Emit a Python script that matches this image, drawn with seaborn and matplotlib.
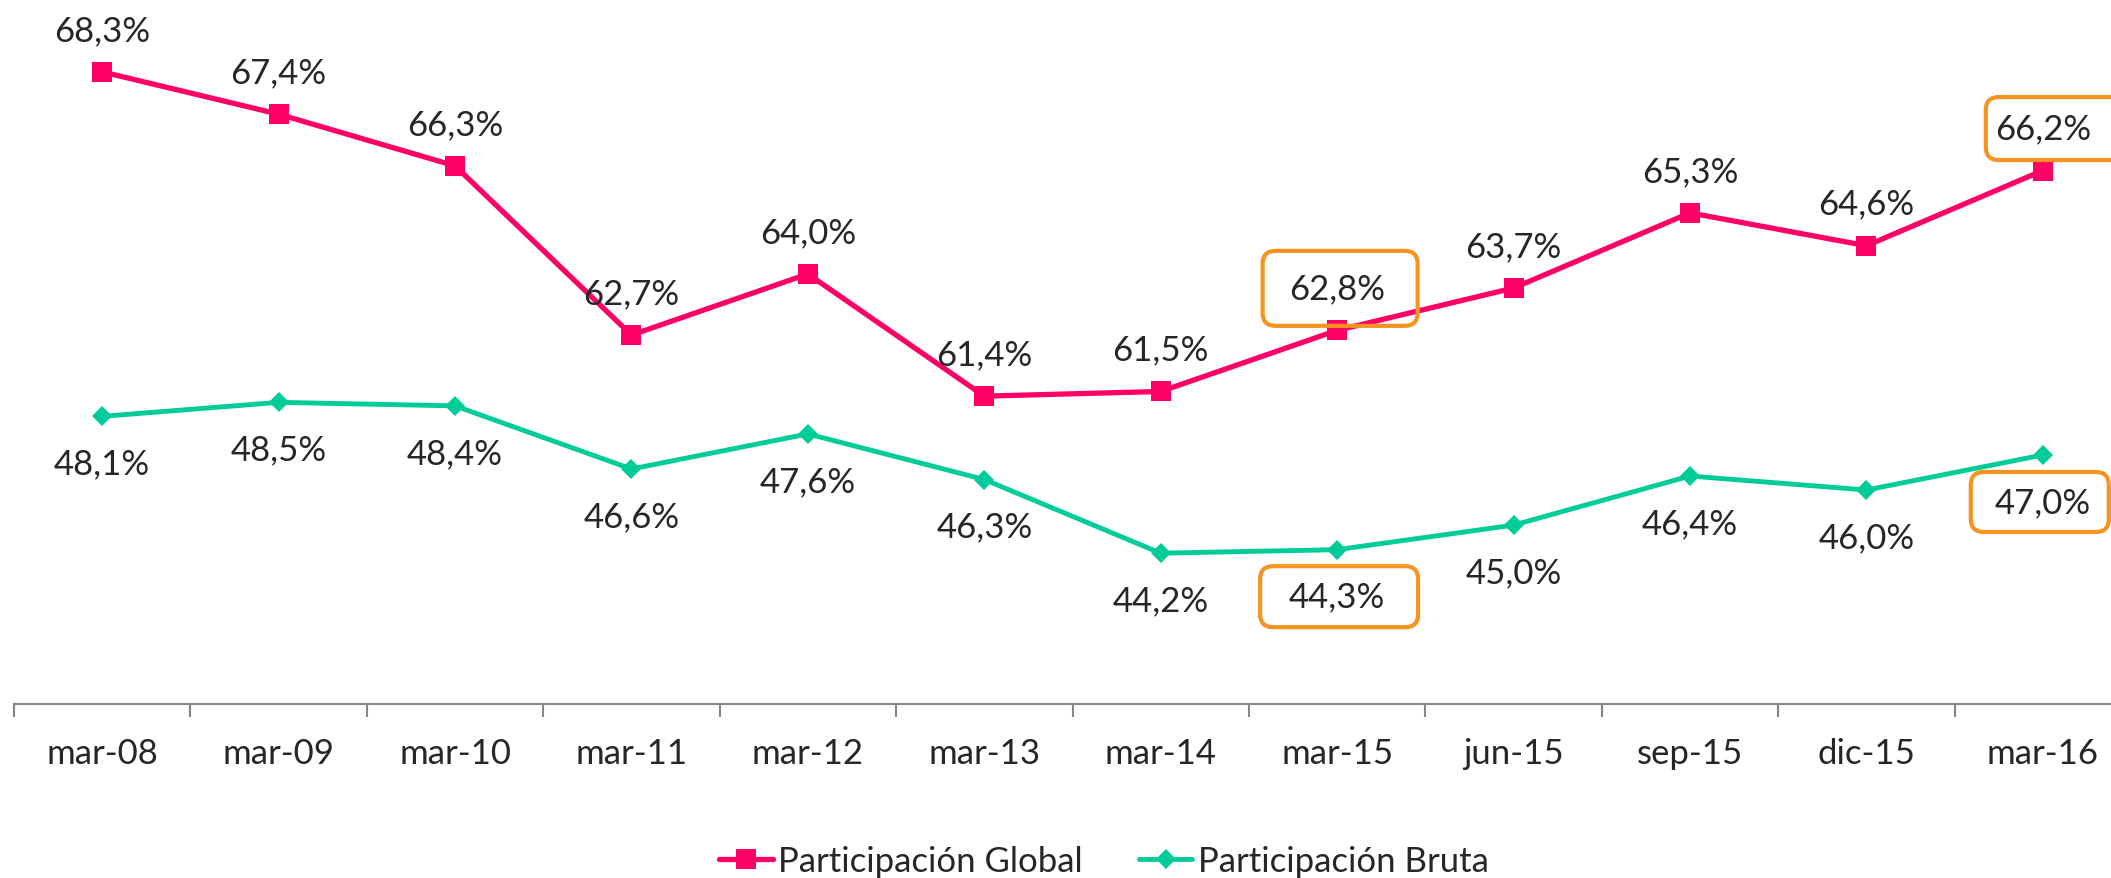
import matplotlib.pyplot as plt
import seaborn as sns
from matplotlib.patches import FancyBboxPatch
from matplotlib.lines import Line2D
from matplotlib.transforms import IdentityTransform

# ==============================
# DATA
# ==============================
periodos = ["mar-08", "mar-09", "mar-10", "mar-11", "mar-12", "mar-13",
            "mar-14", "mar-15", "jun-15", "sep-15", "dic-15", "mar-16"]
part_global = [68.3, 67.4, 66.3, 62.7, 64.0, 61.4, 61.5, 62.8, 63.7, 65.3, 64.6, 66.2]
part_bruta = [48.1, 48.5, 48.4, 46.6, 47.6, 46.3, 44.2, 44.3, 45.0, 46.4, 46.0, 47.0]
series = ["Participación Global", "Participación Bruta"]

ROSA = "#FF0066"
VERDE = "#00CC99"
NARANJA = "#F7931E"
GRIS = "#868686"
FS = 25

sns.set_style("white")
plt.rcParams["font.family"] = ["Lato", "DejaVu Sans"]

W, H = 2111, 879
fig = plt.figure(figsize=(W / 100, H / 100), dpi=100)
ax = fig.add_axes([14 / W, 174 / H, 2117 / W, 705 / H])
ax2 = ax.twinx()

xs = list(range(len(periodos)))
sns.lineplot(x=xs, y=part_global, ax=ax, color=ROSA, lw=3.8, marker="s",
             markersize=14.5, markeredgewidth=0, zorder=4)
sns.lineplot(x=xs, y=part_bruta, ax=ax2, color=VERDE, lw=3.5, marker="D",
             markersize=10.5, markeredgewidth=0, zorder=4)

ax.set_xlim(-0.5, len(periodos) - 0.5)
ax.set_ylim(54.85, 69.85)
ax2.set_ylim(39.9, 60.0)

# axes look
for a in (ax, ax2):
    for s in ["top", "right", "left"]:
        a.spines[s].set_visible(False)
    a.set_yticks([])
    a.set_ylabel("")
ax2.spines["bottom"].set_visible(False)
ax.spines["bottom"].set_color(GRIS)
ax.spines["bottom"].set_linewidth(1.5)

ax.set_xticks(xs)
ax.set_xticklabels(periodos, fontsize=FS)
ax.set_xticks([i - 0.5 for i in range(len(periodos) + 1)], minor=True)
ax.tick_params(axis="x", which="major", bottom=False, length=0, pad=24)
ax.tick_params(axis="x", which="minor", bottom=True, direction="out",
               length=9, width=1.5, color=GRIS)


def fmt(v):
    return f"{v:.1f}".replace(".", ",") + "%"


# data labels
for i, v in enumerate(part_global):
    ax.annotate(fmt(v), (i, v), xytext=(0, 42), textcoords="offset pixels",
                ha="center", va="center", fontsize=FS, zorder=5)
for i, v in enumerate(part_bruta):
    ax2.annotate(fmt(v), (i, v), xytext=(0, -47), textcoords="offset pixels",
                 ha="center", va="center", fontsize=FS, zorder=5)

# orange highlight boxes (pixel sizes)
cajas = [
    (ax, 7, part_global[7], 42, 155, 75, 3),
    (ax2, 7, part_bruta[7], -47, 158, 61, 2),
    (ax, 11, part_global[11], 42, 170, 63, 28),
    (ax2, 11, part_bruta[11], -47, 138, 60, -3),
]
for a, i, v, dy, w, h, dx in cajas:
    px, py = a.transData.transform((i, v))
    cx, cy = px + dx, py + dy
    box = FancyBboxPatch((cx - w / 2, cy - h / 2), w, h,
                         boxstyle="round,pad=0,rounding_size=13",
                         transform=IdentityTransform(), fill=False,
                         edgecolor=NARANJA, lw=3.0, zorder=2)
    fig.add_artist(box)

# legend
handles = [
    Line2D([], [], color=ROSA, lw=3.8, marker="s", markersize=14.5, markeredgewidth=0),
    Line2D([], [], color=VERDE, lw=3.5, marker="D", markersize=10.5, markeredgewidth=0),
]
fig.legend(handles, series, loc="center", bbox_to_anchor=(1104 / W, 17 / H),
           ncol=2, frameon=False, fontsize=FS, handlelength=1.55,
           handletextpad=0.15, columnspacing=1.6)

fig.savefig("out.png", dpi=100)
plt.close()
